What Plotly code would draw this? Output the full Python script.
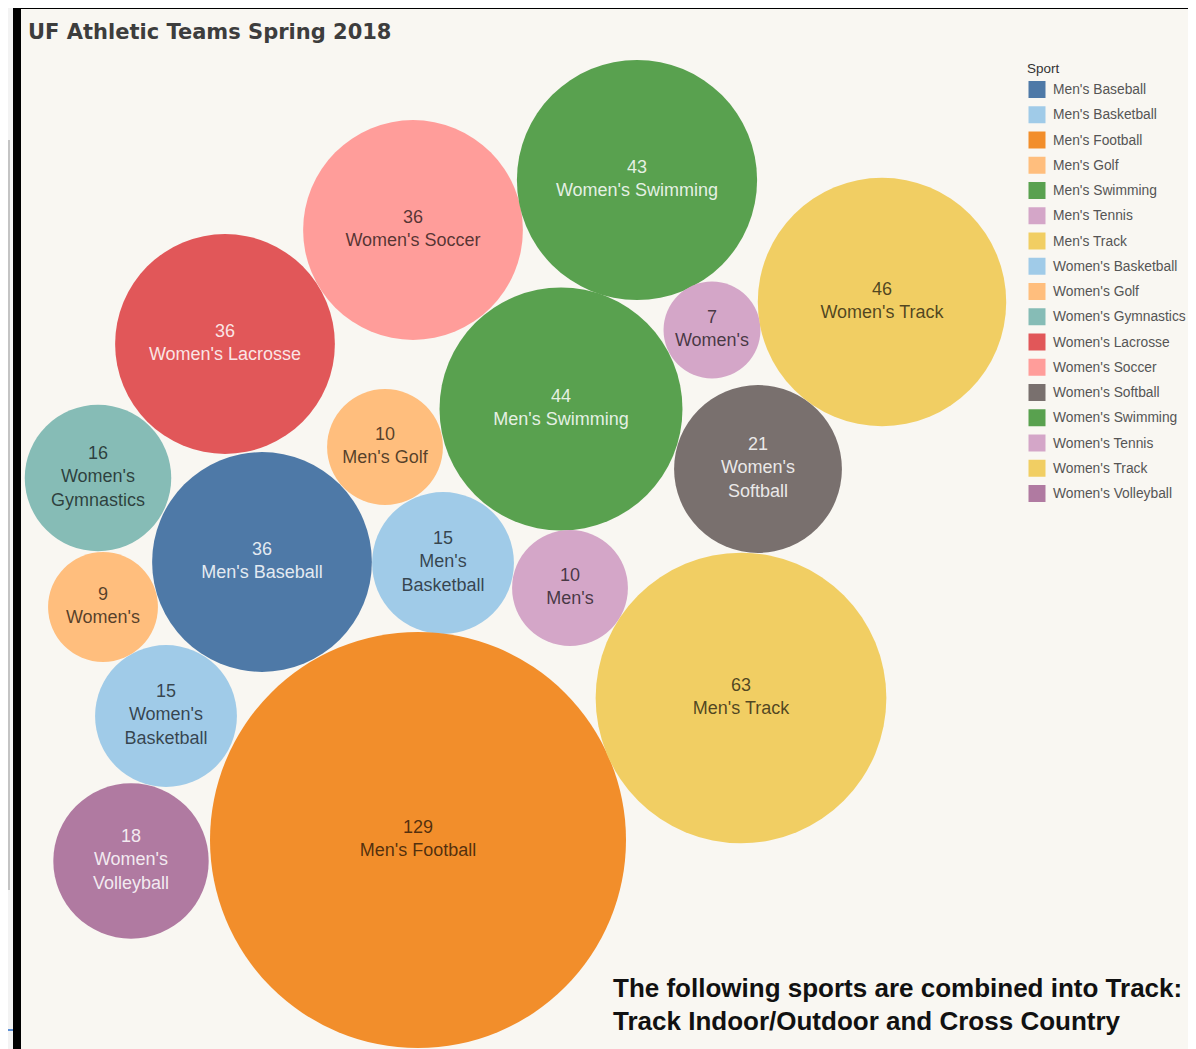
import plotly.graph_objects as go

# ---------------- data ----------------
sports = ["Men's Baseball", "Men's Basketball", "Men's Football", "Men's Golf",
          "Men's Swimming", "Men's Tennis", "Men's Track", "Women's Basketball",
          "Women's Golf", "Women's Gymnastics", "Women's Lacrosse", "Women's Soccer",
          "Women's Softball", "Women's Swimming", "Women's Tennis", "Women's Track",
          "Women's Volleyball"]
athletes = [36, 15, 129, 10, 44, 10, 63, 15, 9, 16, 36, 36, 21, 43, 7, 46, 18]
bubble_labels = ["Men's Baseball", "Men's<br>Basketball", "Men's Football", "Men's Golf",
                 "Men's Swimming", "Men's", "Men's Track", "Women's<br>Basketball",
                 "Women's", "Women's<br>Gymnastics", "Women's Lacrosse", "Women's Soccer",
                 "Women's<br>Softball", "Women's Swimming", "Women's", "Women's Track",
                 "Women's<br>Volleyball"]
title_text = "UF Athletic Teams Spring 2018"
legend_title = "Sport"
note_lines = ["The following sports are combined into Track:",
              "Track Indoor/Outdoor and Cross Country"]

# ---------------- styles / layout ----------------
colors = ["#4E79A7", "#A0CBE8", "#F28E2B", "#FFBE7D", "#59A14F", "#D4A6C8", "#F1CE63",
          "#A0CBE8", "#FFBE7D", "#86BCB6", "#E15759", "#FF9D9A", "#79706E", "#59A14F",
          "#D4A6C8", "#F1CE63", "#B07AA1"]
light_text = [True, False, False, False, True, False, False, False, False, False,
              True, False, True, True, False, False, True]
# packed-bubble layout centres (pixel space of the canvas)
center_x = [262, 443, 418, 385, 561, 570, 741, 166, 103, 98, 225, 413, 758, 637, 712, 882, 131]
center_y = [562, 563, 840, 447, 409, 588, 698, 716, 607, 478, 344, 230, 469, 180, 330, 302, 861]

W, H = 1196, 1049
OFF = 8  # page body margin
BG = "#F9F7F2"
MAX_DIAM = 416

fig = go.Figure()

text_colors = ["rgba(255,255,255,0.86)" if lt else "rgba(0,0,0,0.68)" for lt in light_text]
labels = [f"{v}<br>{lab}" for v, lab in zip(athletes, bubble_labels)]

fig.add_trace(go.Scatter(
    x=center_x, y=center_y, mode="markers+text",
    text=labels, textposition="middle center",
    textfont=dict(family="Liberation Sans, Arial, sans-serif", size=18, color=text_colors),
    marker=dict(size=athletes, sizemode="area",
                sizeref=2.0 * max(athletes) / (MAX_DIAM ** 2),
                color=colors, opacity=1, line=dict(width=0)),
    hovertext=sports, hoverinfo="text", showlegend=False, cliponaxis=False,
))

# manual legend
leg_x = 1037
leg_y0 = 89.5
leg_step = 25.25
leg_y = [leg_y0 + i * leg_step for i in range(len(sports))]
fig.add_trace(go.Scatter(
    x=[leg_x] * len(sports), y=leg_y, mode="markers",
    marker=dict(symbol="square", size=17, color=colors, line=dict(width=0)),
    hoverinfo="skip", showlegend=False, cliponaxis=False,
))

annotations = []
for name, yy in zip(sports, leg_y):
    annotations.append(dict(x=1051, y=yy, xref="x", yref="y", text=name, showarrow=False,
                            xanchor="left", yanchor="middle",
                            font=dict(family="Liberation Sans, Arial, sans-serif", size=13.8,
                                      color="#555555")))
annotations.append(dict(x=1025, y=68, xref="x", yref="y", text=legend_title, showarrow=False,
                        xanchor="left", yanchor="middle",
                        font=dict(family="Liberation Sans, Arial, sans-serif", size=13.5,
                                  color="#333333")))
annotations.append(dict(x=26, y=32, xref="x", yref="y", text=f"<b>{title_text}</b>",
                        showarrow=False, xanchor="left", yanchor="middle",
                        font=dict(family="DejaVu Sans, sans-serif", size=21, color="#3d3d3d")))
for line, yy in zip(note_lines, [988, 1021]):
    annotations.append(dict(x=611, y=yy, xref="x", yref="y", text=f"<b>{line}</b>",
                            showarrow=False, xanchor="left", yanchor="middle",
                            font=dict(family="Liberation Sans, Arial, sans-serif", size=26,
                                      color="#111111")))

# screenshot frame around the chart
shapes = [
    dict(type="rect", xref="x", yref="y", x0=0, x1=13, y0=0, y1=H, fillcolor="#F3F3F3",
         line=dict(width=0), layer="below"),
    dict(type="rect", xref="x", yref="y", x0=8, x1=10, y0=140, y1=890, fillcolor="#C4C4C4",
         line=dict(width=0), layer="below"),
    dict(type="rect", xref="x", yref="y", x0=0, x1=13, y0=1029, y1=1031, fillcolor="#5B8FD6",
         line=dict(width=0), layer="below"),
    dict(type="rect", xref="x", yref="y", x0=13, x1=21, y0=0, y1=H, fillcolor="#000000",
         line=dict(width=0), layer="below"),
    dict(type="rect", xref="x", yref="y", x0=13, x1=W + OFF, y0=0, y1=9, fillcolor="#000000",
         line=dict(width=0), layer="below"),
]

fig.update_layout(
    width=W, height=H - OFF, autosize=False,
    margin=dict(l=0, r=0, t=0, b=0, pad=0),
    paper_bgcolor=BG, plot_bgcolor=BG,
    xaxis=dict(range=[OFF, W + OFF], visible=False, fixedrange=True),
    yaxis=dict(range=[H, OFF], visible=False, fixedrange=True),
    annotations=annotations, shapes=shapes,
    showlegend=False,
)

fig.write_html("out.html")
